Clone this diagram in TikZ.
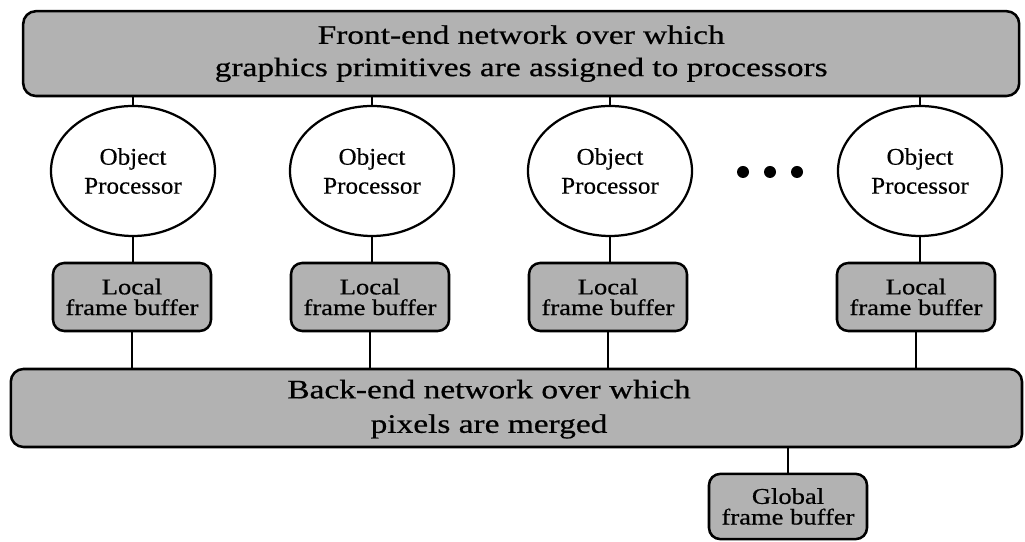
\documentclass[tikz,border=0pt]{standalone}
\usepackage{fontspec}
\setmainfont{Liberation Serif}
\newfontfamily\netfont{Liberation Serif}[FakeStretch=1.25,FakeBold=0.6]
\newfontfamily\buffont{Liberation Serif}[FakeStretch=1.18,FakeBold=0.6]
\newfontfamily\procfont{Liberation Serif}[FakeStretch=1.05,FakeBold=0.4]
\definecolor{halftone}{gray}{0.7}
\usetikzlibrary{positioning,shapes.geometric}

\begin{document}
\begin{tikzpicture}[line width=1.3pt,
	netbar/.style={draw,line width=1.8pt,fill=halftone,rounded corners=9pt,inner sep=0pt},
	proc/.style={draw,ellipse,line width=1.6pt,minimum width=4.1cm,minimum height=3.25cm,inner sep=0pt,align=center,font=\procfont\fontsize{17}{20.6}\selectfont},
	buffer/.style={draw,line width=1.8pt,fill=halftone,rounded corners=8pt,minimum width=3.95cm,minimum height=1.7cm,inner sep=0pt,align=center,font=\buffont\fontsize{16}{14.7}\selectfont},
	nettext/.style={align=center,font=\netfont\fontsize{19}{23}\selectfont}]
	\useasboundingbox (0,0) rectangle (25.625,13.55);

	%front-end network
	\node[netbar,nettext,minimum width=24.9cm,minimum height=2.12cm] (front) at (13.03,12.21)
	  {Front-end network over which\\graphics primitives are assigned to processors};

	%object processors
	\node[proc] (proc1) at (3.325,9.275) {Object\\Processor};
	\node[proc] (proc2) at (9.3,9.275) {Object\\Processor};
	\node[proc] (proc3) at (15.25,9.275) {Object\\Processor};
	\node[proc] (proc4) at (23.0,9.275) {Object\\Processor};

	%dots between processors
	\fill (18.575,9.25) circle (0.15); %dot 1
	\fill (19.25,9.25) circle (0.15); %dot 2
	\fill (19.925,9.25) circle (0.15); %dot 3

	%local frame buffers
	\node[buffer] (buf1) at (3.3,6.125) {Local\\frame buffer};
	\node[buffer] (buf2) at (9.25,6.125) {Local\\frame buffer};
	\node[buffer] (buf3) at (15.2,6.125) {Local\\frame buffer};
	\node[buffer] (buf4) at (22.9,6.125) {Local\\frame buffer};

	%back-end network
	\node[netbar,minimum width=25.28cm,minimum height=1.95cm] (back) at (12.91,3.35) {};
	\node[nettext,font=\netfont\fontsize{19}{24.5}\selectfont] (backtxt) at (12.225,3.32) {Back-end network over which\\pixels are merged};

	%global frame buffer
	\node[buffer,minimum height=1.63cm] (global) at (19.7,0.8875) {Global\\frame buffer};

	%links front-end to processors
	\draw (proc1.north) -- (proc1.north |- front.south);
	\draw (proc2.north) -- (proc2.north |- front.south);
	\draw (proc3.north) -- (proc3.north |- front.south);
	\draw (proc4.north) -- (proc4.north |- front.south);

	%links processors to buffers
	\draw (proc1.south) -- (proc1.south |- buf1.north);
	\draw (proc2.south) -- (proc2.south |- buf2.north);
	\draw (proc3.south) -- (proc3.south |- buf3.north);
	\draw (proc4.south) -- (proc4.south |- buf4.north);

	%links buffers to back-end
	\draw (buf1.south) -- (buf1.south |- back.north);
	\draw (buf2.south) -- (buf2.south |- back.north);
	\draw (buf3.south) -- (buf3.south |- back.north);
	\draw (buf4.south) -- (buf4.south |- back.north);

	%link back-end to global buffer
	\draw (global.north) -- (global.north |- back.south);
\end{tikzpicture}
\end{document}
